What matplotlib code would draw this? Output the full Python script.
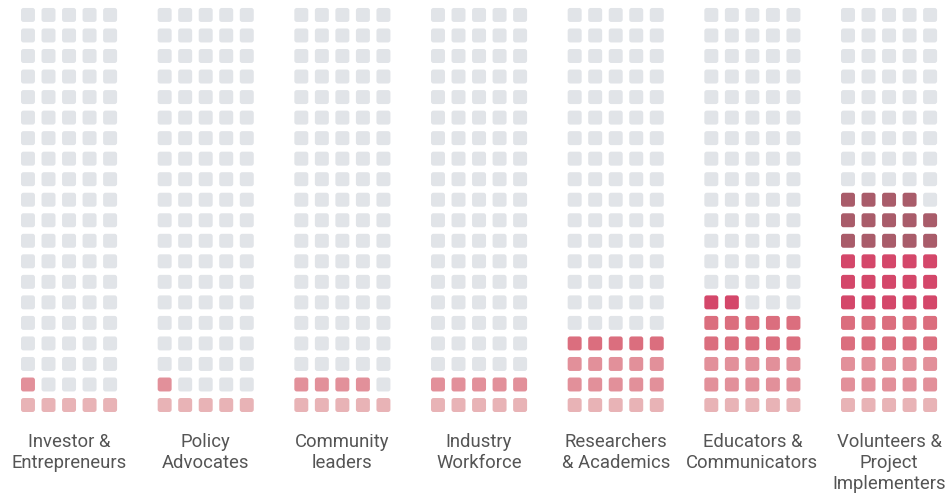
import matplotlib
matplotlib.use('Agg')
import matplotlib.pyplot as plt
from matplotlib.patches import FancyBboxPatch

# categories and number of filled squares (out of 100 each)
labels = ['Investor &\nEntrepreneurs', 'Policy\nAdvocates', 'Community\nleaders',
          'Industry\nWorkforce', 'Researchers\n& Academics', 'Educators &\nCommunicators',
          'Volunteers &\nProject\nImplementers']
counts = [6, 6, 9, 10, 20, 27, 54]

# fill colour by row, bottom row first
row_colors = ['#e8b3b6', '#e2909a', '#e2909a', '#db6e7e', '#db6e7e',
              '#d4476a', '#d4476a', '#d4476a', '#a95c6a', '#a95c6a', '#a95c6a']
empty_color = '#e1e4e8'

n_cols, n_rows = 5, 20
group_step = 6.657   # distance between groups, in cell units
sq = 0.68            # square size, in cell units

fig = plt.figure(figsize=(9.48, 4.95), dpi=100)
ax = fig.add_axes([0, 0, 1, 1])
ax.set_xlim(-21 / 20.53, (948 - 21) / 20.53)
ax.set_ylim(-(495 - 412) / 20.53, 412 / 20.53)
ax.axis('off')

for g, (lab, n) in enumerate(zip(labels, counts)):
    x0 = g * group_step
    for i in range(n_cols * n_rows):
        r, c = divmod(i, n_cols)
        col = row_colors[r] if i < n else empty_color
        ax.add_patch(FancyBboxPatch((x0 + c, r), sq, sq,
                                    boxstyle='round,pad=0,rounding_size=0.12',
                                    fc=col, ec='none'))
    ax.text(x0 + (n_cols - 1 + sq) / 2, -1.02, lab, ha='center', va='top',
            fontsize=13.3, family='Roboto', color='#555555', linespacing=1.2)

fig.savefig('out.png', dpi=100)
